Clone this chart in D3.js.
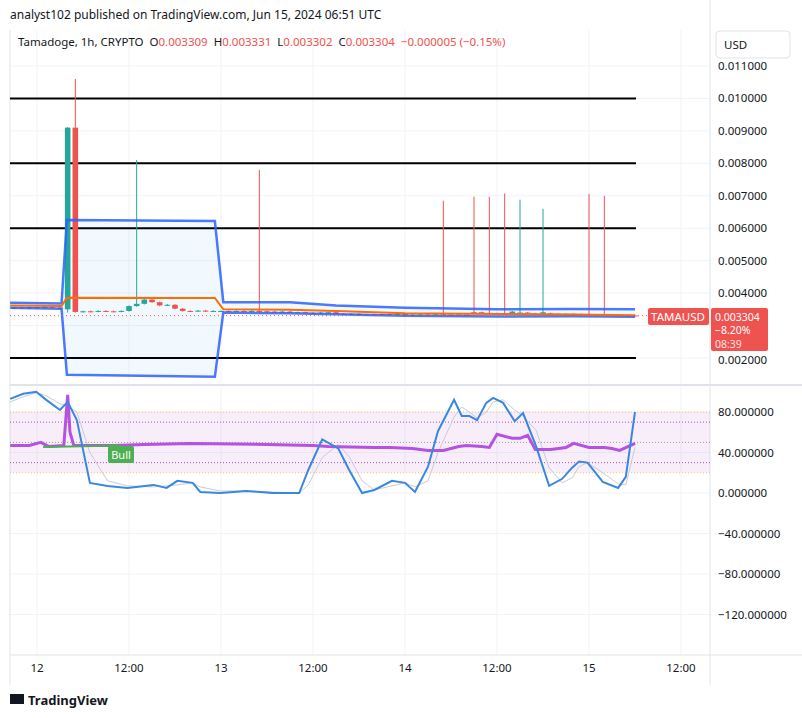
<!DOCTYPE html>
<html><head><meta charset="utf-8">
<script src="https://cdn.jsdelivr.net/npm/d3@7"></script>
<style>body{margin:0;background:#fff;font-family:"Noto Sans",Roboto,sans-serif}</style>
</head><body><svg id="c" width="802" height="718"></svg>
<script>
// ---- data ----
const xTicks = [{h:0,t:"12"},{h:12,t:"12:00"},{h:24,t:"13"},{h:36,t:"12:00"},{h:48,t:"14"},{h:60,t:"12:00"},{h:72,t:"15"},{h:84,t:"12:00"}];
const priceTicks = [0.011,0.010,0.009,0.008,0.007,0.006,0.005,0.004,0.002];
const levels = [0.010,0.008,0.006,0.002];
const oscTicks = [80,40,0,-40,-80,-120];
const cHour = [-3,-2,-1,0,1,2,3,4,5,6,7,8,9,10,11,12,13,14,15,16,17,18,19,20,21,22,23,24,25,26,27,28,29,30,31,32,33,34,35,36,37,38,39,40,41,42,43,44,45,46,47,48,49,50,51,52,53,54,55,56,57,58,59,60,61,62,63,64,65,66,67,68,69,70,71,72,73,74,75,76,77,78];
const cOpen = [.00352,.00356,.00353,.00357,.00354,.00358,.00355,.00350,.00910,.00342,.00344,.00343,.00345,.00344,.00343,.00345,.00360,.00367,.00380,.00372,.00362,.00364,.00352,.00345,.00344,.00346,.00344,.00345,.00345,.00344,.00345,.00344,.00345,.00344,.00343,.00342,.00343,.00340,.00341,.00339,.00338,.00340,.00341,.00336,.00335,.00336,.00333,.00334,.00333,.00335,.00334,.00336,.00332,.00333,.00334,.00333,.00335,.00334,.00333,.00334,.00339,.00341,.00339,.00338,.00337,.00336,.00336,.00340,.00337,.00336,.00338,.00336,.00335,.00336,.00334,.00335,.00333,.00334,.00333,.00332,.00330,.00331];
const cClose = [.00356,.00353,.00357,.00354,.00358,.00355,.00352,.00910,.00342,.00344,.00343,.00345,.00344,.00343,.00345,.00360,.00367,.00380,.00372,.00362,.00364,.00352,.00345,.00344,.00346,.00344,.00345,.00345,.00344,.00345,.00344,.00345,.00344,.00343,.00342,.00343,.00340,.00341,.00339,.00338,.00340,.00341,.00336,.00335,.00336,.00333,.00334,.00333,.00335,.00334,.00336,.00332,.00333,.00334,.00333,.00335,.00334,.00333,.00334,.00331,.00341,.00339,.00338,.00337,.00336,.00343,.00340,.00337,.00336,.00341,.00336,.00335,.00336,.00334,.00335,.00333,.00334,.00333,.00332,.00330,.00331,.00330];
const wickHour = [4,5,13,29,53,57,59,61,63,66,72,74];
const wickHigh = [.00912,.01060,.00810,.00780,.00685,.00697,.00697,.00707,.00688,.00660,.00706,.00700];
const wickUp   = [true,false,true,false,false,false,false,false,true,true,false,false];
const bHour = [-3.5,3.2,3.9,23.2,24.3,33,39,48,60,70,78];
const bUpper= [.00370,.00368,.00625,.00622,.00372,.00372,.00362,.00355,.00350,.00351,.00350];
const bMid  = [.00362,.00360,.00386,.00385,.00350,.00349,.00345,.00338,.00336,.00334,.00332];
const bLower= [.00355,.00352,.00148,.00142,.00340,.00338,.00335,.00330,.00328,.00329,.00327];
const oHour = [-3.5,-1.8,-0.1,1.2,3,4,5.2,6.9,9.2,11.8,15.2,16.9,18.3,20.3,21.3,23.9,27.3,30.7,34.2,35.4,37.2,39.3,40.7,42.4,44,46.3,48,49.3,51,52.3,54.4,55.4,56.4,57.4,58.6,59.5,60.8,62.3,63.4,65.1,66.8,68.5,69.8,70.7,71.8,73.8,75.8,76.8,78];
const oBlue = [93,98,100,92,82,90,72,10,7,5,8,5,12,10,1,0,2,0,0,23,53,44,23,0,3,12,10,1,26,61,92,76,76,72,89,94,89,71,79,46,7,14,25,31,30,11,5,16,80];
const oGrey = [90,95,99,96,88,86,80,40,12,7,6,7,8,10,6,2,2,1,0,8,35,48,36,12,3,7,10,6,12,40,75,85,80,74,80,90,92,82,76,62,25,10,15,26,30,20,9,8,45];
const rHour = [-3.5,-1,0.5,1.5,3.5,4,4.3,4.8,10,14,20,30,36,38,44,46,49,51,53,55,56,58,59,60,62,63,64,65,67,69,70,72,74,75,76,78];
const rVal  = [47,47,50,46,47,97,60,47,47,48,49,48,47,46,45,45,44,42,42,46,47,46,45,58,54,54,57,43,43,45,49,45,45,44,42,49];
const bullHour=[0.8,10.8], bullVal=[45.5,47];

const svg=d3.select("#c");
const x=d3.scaleLinear().domain([0,24]).range([37,221]);
const y=d3.scaleLinear().domain([0.002,0.011]).range([358,66]);
const yo=d3.scaleLinear().domain([0,80]).range([493,412]);
const plotR=710;
const g=svg.append("g");
xTicks.forEach(d=>g.append("line").attr("x1",x(d.h)).attr("x2",x(d.h)).attr("y1",30).attr("y2",655).attr("stroke","#f0f3fa"));
priceTicks.concat([0.003]).forEach(v=>g.append("line").attr("x1",10).attr("x2",plotR).attr("y1",y(v)).attr("y2",y(v)).attr("stroke","#f0f3fa"));
oscTicks.forEach(v=>g.append("line").attr("x1",10).attr("x2",plotR).attr("y1",yo(v)).attr("y2",yo(v)).attr("stroke","#f0f3fa"));
svg.append("line").attr("x1",10).attr("x2",802).attr("y1",385).attr("y2",385).attr("stroke","#e0e3eb").attr("stroke-width",2);
svg.append("line").attr("x1",plotR).attr("x2",plotR).attr("y1",0).attr("y2",685).attr("stroke","#e0e3eb");
svg.append("line").attr("x1",10).attr("x2",802).attr("y1",655).attr("y2",655).attr("stroke","#e0e3eb");
svg.append("line").attr("x1",10).attr("x2",10).attr("y1",30).attr("y2",685).attr("stroke","#e0e3eb");

const bi=d3.range(bHour.length);
svg.append("path").attr("d",d3.area().x(i=>x(bHour[i])).y0(i=>y(bLower[i])).y1(i=>y(bUpper[i]))(bi)).attr("fill","rgba(33,150,243,0.06)");
levels.forEach(v=>svg.append("line").attr("x1",10).attr("x2",636).attr("y1",y(v)).attr("y2",y(v)).attr("stroke","#000").attr("stroke-width",2));
d3.range(cHour.length).forEach(i=>{
  const w=wickHour.indexOf(cHour[i]);
  const up=w>=0?wickUp[w]:cClose[i]>=cOpen[i]; const col=up?"#26a69a":"#ef5350";
  const hi=w>=0?wickHigh[w]:Math.max(cOpen[i],cClose[i])+0.00002;
  const lo=cHour[i]==4||cHour[i]==5?0.00340:Math.min(cOpen[i],cClose[i])-0.00002;
  svg.append("line").attr("x1",x(cHour[i])).attr("x2",x(cHour[i])).attr("y1",y(hi)).attr("y2",y(lo)).attr("stroke",col);
  const t=y(Math.max(cOpen[i],cClose[i])), b=y(Math.min(cOpen[i],cClose[i]));
  svg.append("rect").attr("x",x(cHour[i])-2.8).attr("width",5.6).attr("y",t).attr("height",Math.max(1,b-t)).attr("fill",col);
});
const ln=(xs,ys,sx,sy)=>d3.line().x(i=>sx(xs[i])).y(i=>sy(ys[i]))(d3.range(xs.length));
svg.append("path").attr("d",ln(bHour,bUpper,x,y)).attr("fill","none").attr("stroke","#2962ff").attr("stroke-width",2.5).attr("opacity",0.85);
svg.append("path").attr("d",ln(bHour,bLower,x,y)).attr("fill","none").attr("stroke","#2962ff").attr("stroke-width",2.5).attr("opacity",0.85);
svg.append("path").attr("d",ln(bHour,bMid,x,y)).attr("fill","none").attr("stroke","#ff6d00").attr("stroke-width",2);
svg.append("line").attr("x1",10).attr("x2",plotR).attr("y1",y(0.003304)).attr("y2",y(0.003304)).attr("stroke","#ef5350").attr("stroke-dasharray","1,3");

svg.append("rect").attr("x",10).attr("width",plotR-10).attr("y",yo(80)).attr("height",yo(20)-yo(80)).attr("fill","rgba(156,39,176,0.08)");
[[80,"#f5c242"],[20,"#f5c242"],[70,"#9c27b0"],[30,"#9c27b0"],[50,"#888"]].forEach(d=>svg.append("line").attr("x1",10).attr("x2",plotR).attr("y1",yo(d[0])).attr("y2",yo(d[0])).attr("stroke",d[1]).attr("stroke-dasharray","1,2").attr("opacity",0.8));
svg.append("path").attr("d",ln(oHour,oGrey,x,yo)).attr("fill","none").attr("stroke","#c9ccd6").attr("stroke-width",1);
svg.append("path").attr("d",ln(rHour,rVal,x,yo)).attr("fill","none").attr("stroke","#b553e0").attr("stroke-width",3);
svg.append("path").attr("d",ln(bullHour,bullVal,x,yo)).attr("fill","none").attr("stroke","#4caf50").attr("stroke-width",2);
svg.append("path").attr("d",ln(oHour,oBlue,x,yo)).attr("fill","none").attr("stroke","#3a87e0").attr("stroke-width",2);
svg.append("rect").attr("x",108).attr("y",446).attr("width",26).attr("height",17).attr("rx",2).attr("fill","#4caf50");
svg.append("text").attr("x",121).attr("y",458.5).attr("text-anchor","middle").attr("font-size",11).attr("fill","#fff").text("Bull");

const T=(xx,yy,s,o)=>{const e=svg.append("text").attr("x",xx).attr("y",yy).attr("font-size",o&&o.fs||11.5).attr("fill",o&&o.fill||"#131722").text(s); if(o&&o.anchor)e.attr("text-anchor",o.anchor); if(o&&o.fw)e.attr("font-weight",o.fw); return e;};
priceTicks.forEach(v=>T(718,y(v)+(v===0.002?6:4),v.toFixed(6)));
oscTicks.forEach(v=>T(718,yo(v)+4,(v<0?"\u2212"+(-v).toFixed(6):v.toFixed(6))));
xTicks.forEach(d=>T(x(d.h),672,d.t,{anchor:"middle"}));
svg.append("rect").attr("x",716).attr("y",31).attr("width",74).attr("height",27).attr("rx",4).attr("fill","#fff").attr("stroke","#e0e3eb");
T(724,49,"USD");
svg.append("rect").attr("x",648).attr("y",308).attr("width",61).attr("height",17).attr("rx",2).attr("fill","#ef5350");
T(678,320.5,"TAMAUSD",{anchor:"middle",fill:"#fff"});
svg.append("rect").attr("x",711).attr("y",308).attr("width",57).attr("height",43).attr("rx",2).attr("fill","#ef5350");
T(715,320.5,"0.003304",{fill:"#fff",fs:10.5}); T(715,334,"\u22128.20%",{fill:"#fff",fs:10.5}); T(715,347.5,"08:39",{fill:"#fde0e0",fs:10.5});
T(10,19,"analyst102 published on TradingView.com, Jun 15, 2024 06:51 UTC",{fs:12});
const hd=svg.append("text").attr("x",18).attr("y",46).attr("font-size",11.5).attr("fill","#131722").attr("style","white-space:pre");
[["Tamadoge, 1h, CRYPTO  ","#131722"],["O","#131722"],["0.003309  ","#ef5350"],["H","#131722"],["0.003331  ","#ef5350"],["L","#131722"],["0.003302  ","#ef5350"],["C","#131722"],["0.003304  \u22120.000005 (\u22120.15%)","#ef5350"]].forEach(d=>hd.append("tspan").attr("fill",d[1]).text(d[0]));
svg.append("rect").attr("x",10).attr("y",694).attr("width",14).attr("height",10).attr("fill","#131722");
T(28,705,"TradingView",{fs:13,fw:"bold"});
</script></body></html>
